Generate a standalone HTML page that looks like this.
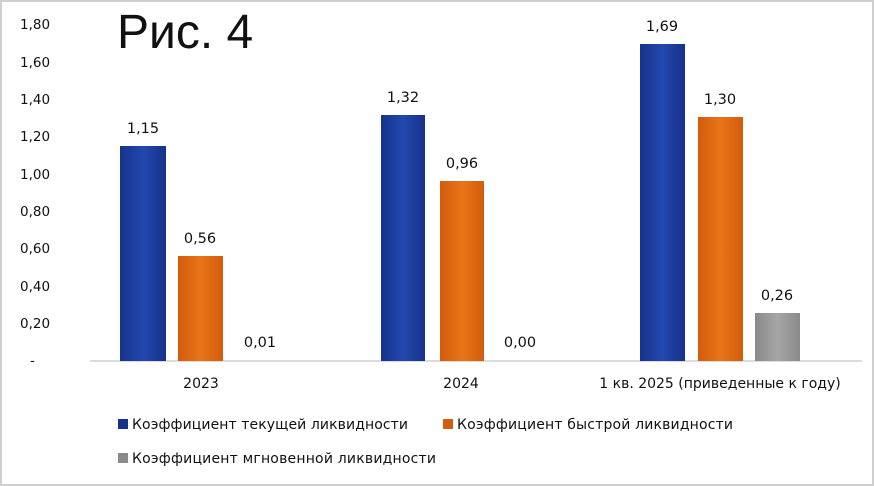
<!DOCTYPE html>
<html><head><meta charset="utf-8"><style>
html,body{margin:0;padding:0;background:#fff}
svg{display:block}
text{font-family:"DejaVu Sans",sans-serif;fill:#111}
</style></head><body>
<svg width="874" height="486" viewBox="0 0 874 486" xmlns="http://www.w3.org/2000/svg">
<defs>
<linearGradient id="b" x1="0" x2="1"><stop offset="0" stop-color="#16328a"/><stop offset=".5" stop-color="#2348b0"/><stop offset="1" stop-color="#16328a"/></linearGradient>
<linearGradient id="o" x1="0" x2="1"><stop offset="0" stop-color="#d25c0c"/><stop offset=".5" stop-color="#ea7418"/><stop offset="1" stop-color="#d25c0c"/></linearGradient>
<linearGradient id="g" x1="0" x2="1"><stop offset="0" stop-color="#8a8a8a"/><stop offset=".5" stop-color="#a5a5a5"/><stop offset="1" stop-color="#8a8a8a"/></linearGradient>
</defs>
<rect x="1" y="1" width="872" height="484" fill="#fff" stroke="#cfcfcf" stroke-width="2"/>
<text x="117" y="48" font-size="48" style="font-family:'Liberation Sans',sans-serif">Рис. 4</text>
<g font-size="13.5" text-anchor="start">
<text x="20" y="29">1,80</text>
<text x="20" y="67">1,60</text>
<text x="20" y="104">1,40</text>
<text x="20" y="141">1,20</text>
<text x="20" y="179">1,00</text>
<text x="20" y="216">0,80</text>
<text x="20" y="253">0,60</text>
<text x="20" y="291">0,40</text>
<text x="20" y="328">0,20</text>
<text x="30" y="365">-</text>
</g>
<line x1="90" y1="361" x2="862" y2="361" stroke="#d0d0d0" stroke-width="1.5"/>
<rect x="120" y="146" width="46" height="215" fill="url(#b)"/>
<rect x="178" y="256" width="45" height="105" fill="url(#o)"/>
<rect x="381" y="115" width="44" height="246" fill="url(#b)"/>
<rect x="440" y="181" width="44" height="180" fill="url(#o)"/>
<rect x="640" y="44" width="45" height="317" fill="url(#b)"/>
<rect x="698" y="117" width="45" height="244" fill="url(#o)"/>
<rect x="755" y="313" width="45" height="48" fill="url(#g)"/>
<g font-size="14.5" text-anchor="middle">
<text x="143" y="133">1,15</text>
<text x="200" y="243">0,56</text>
<text x="260" y="347">0,01</text>
<text x="403" y="102">1,32</text>
<text x="462" y="168">0,96</text>
<text x="520" y="347">0,00</text>
<text x="662" y="31">1,69</text>
<text x="720" y="104">1,30</text>
<text x="777" y="300">0,26</text>
</g>
<g font-size="14" text-anchor="middle">
<text x="201" y="388">2023</text>
<text x="461" y="388">2024</text>
<text x="720" y="388">1 кв. 2025 (приведенные к году)</text>
</g>
<g font-size="14">
<rect x="118" y="419" width="10" height="10" fill="#16328a"/>
<text x="132" y="429" textLength="276">Коэффициент текущей ликвидности</text>
<rect x="443" y="419" width="10" height="10" fill="#d25c0c"/>
<text x="457" y="429" textLength="276">Коэффициент быстрой ликвидности</text>
<rect x="118" y="453" width="10" height="10" fill="#8a8a8a"/>
<text x="132" y="463" textLength="304">Коэффициент мгновенной ликвидности</text>
</g>
</svg>
</body></html>
